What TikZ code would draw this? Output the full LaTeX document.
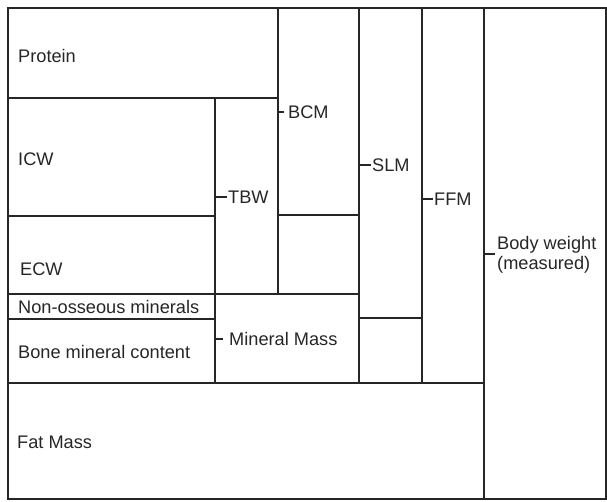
\documentclass[tikz,border=0pt]{standalone}
\usepackage{fontspec}
\setmainfont{Liberation Sans}
\begin{document}
\begin{tikzpicture}[x=1pt,y=-1pt,
  frame/.style={line width=1.8pt, black!85, line cap=rect},
  tick/.style={line width=1.5pt, black!85},
  lab/.style={anchor=west, inner sep=0pt, text height=13pt, text depth=0pt,
    font=\fontsize{18.2}{20}\selectfont, text=black!85}]
\useasboundingbox (0,0) rectangle (607,501);
% outer frame and partitions
\draw[frame] (8,8) rectangle (606,499);
\draw[frame] (8,98) -- (278,98);
\draw[frame] (278,8) -- (278,294);
\draw[frame] (215,98) -- (215,383);
\draw[frame] (8,216) -- (215,216);
\draw[frame] (278,215) -- (359,215);
\draw[frame] (8,294) -- (359,294);
\draw[frame] (8,319) -- (215,319);
\draw[frame] (359,8) -- (359,383);
\draw[frame] (359,318) -- (422,318);
\draw[frame] (422,8) -- (422,383);
\draw[frame] (8,383) -- (484,383);
\draw[frame] (484,8) -- (484,499);
% compartment labels
\node[lab] (protein) at (18,56) {Protein};
\node[lab] (icw) at (18,159) {ICW};
\node[lab] (ecw) at (20,269) {ECW};
\node[lab] (nom) at (18,307) {Non-osseous minerals};
\node[lab] (bmc) at (18,352) {Bone mineral content};
\node[lab] (fat) at (17,442) {Fat Mass};
% grouped labels with ticks
\coordinate (tbwT) at (215,197);
\node[lab] (tbw) at (228,197) {TBW};
\draw[tick] (tbwT) -- ([xshift=-1pt]tbw.west);
\coordinate (bcmT) at (278,112);
\node[lab] (bcm) at (288,112) {BCM};
\draw[tick] (bcmT) -- ([xshift=-4pt]bcm.west);
\coordinate (slmT) at (359,165);
\node[lab] (slm) at (372,165) {SLM};
\draw[tick] (slmT) -- ([xshift=-1pt]slm.west);
\coordinate (ffmT) at (422,199);
\node[lab] (ffm) at (434,199) {FFM};
\draw[tick] (ffmT) -- ([xshift=-1pt]ffm.west);
\coordinate (mmT) at (215,339);
\node[lab] (mm) at (229,339) {Mineral Mass};
\draw[tick] (mmT) -- ([xshift=-6pt]mm.west);
\coordinate (bwT) at (484,254);
\coordinate (bwE) at (495,254);
\node[anchor=base west, inner sep=0pt, align=left, text=black!85,
  font=\fontsize{18.2}{19.5}\selectfont] (bw) at (497,269) {Body weight\\(measured)};
\draw[tick] (bwT) -- (bwE);
\end{tikzpicture}
\end{document}
